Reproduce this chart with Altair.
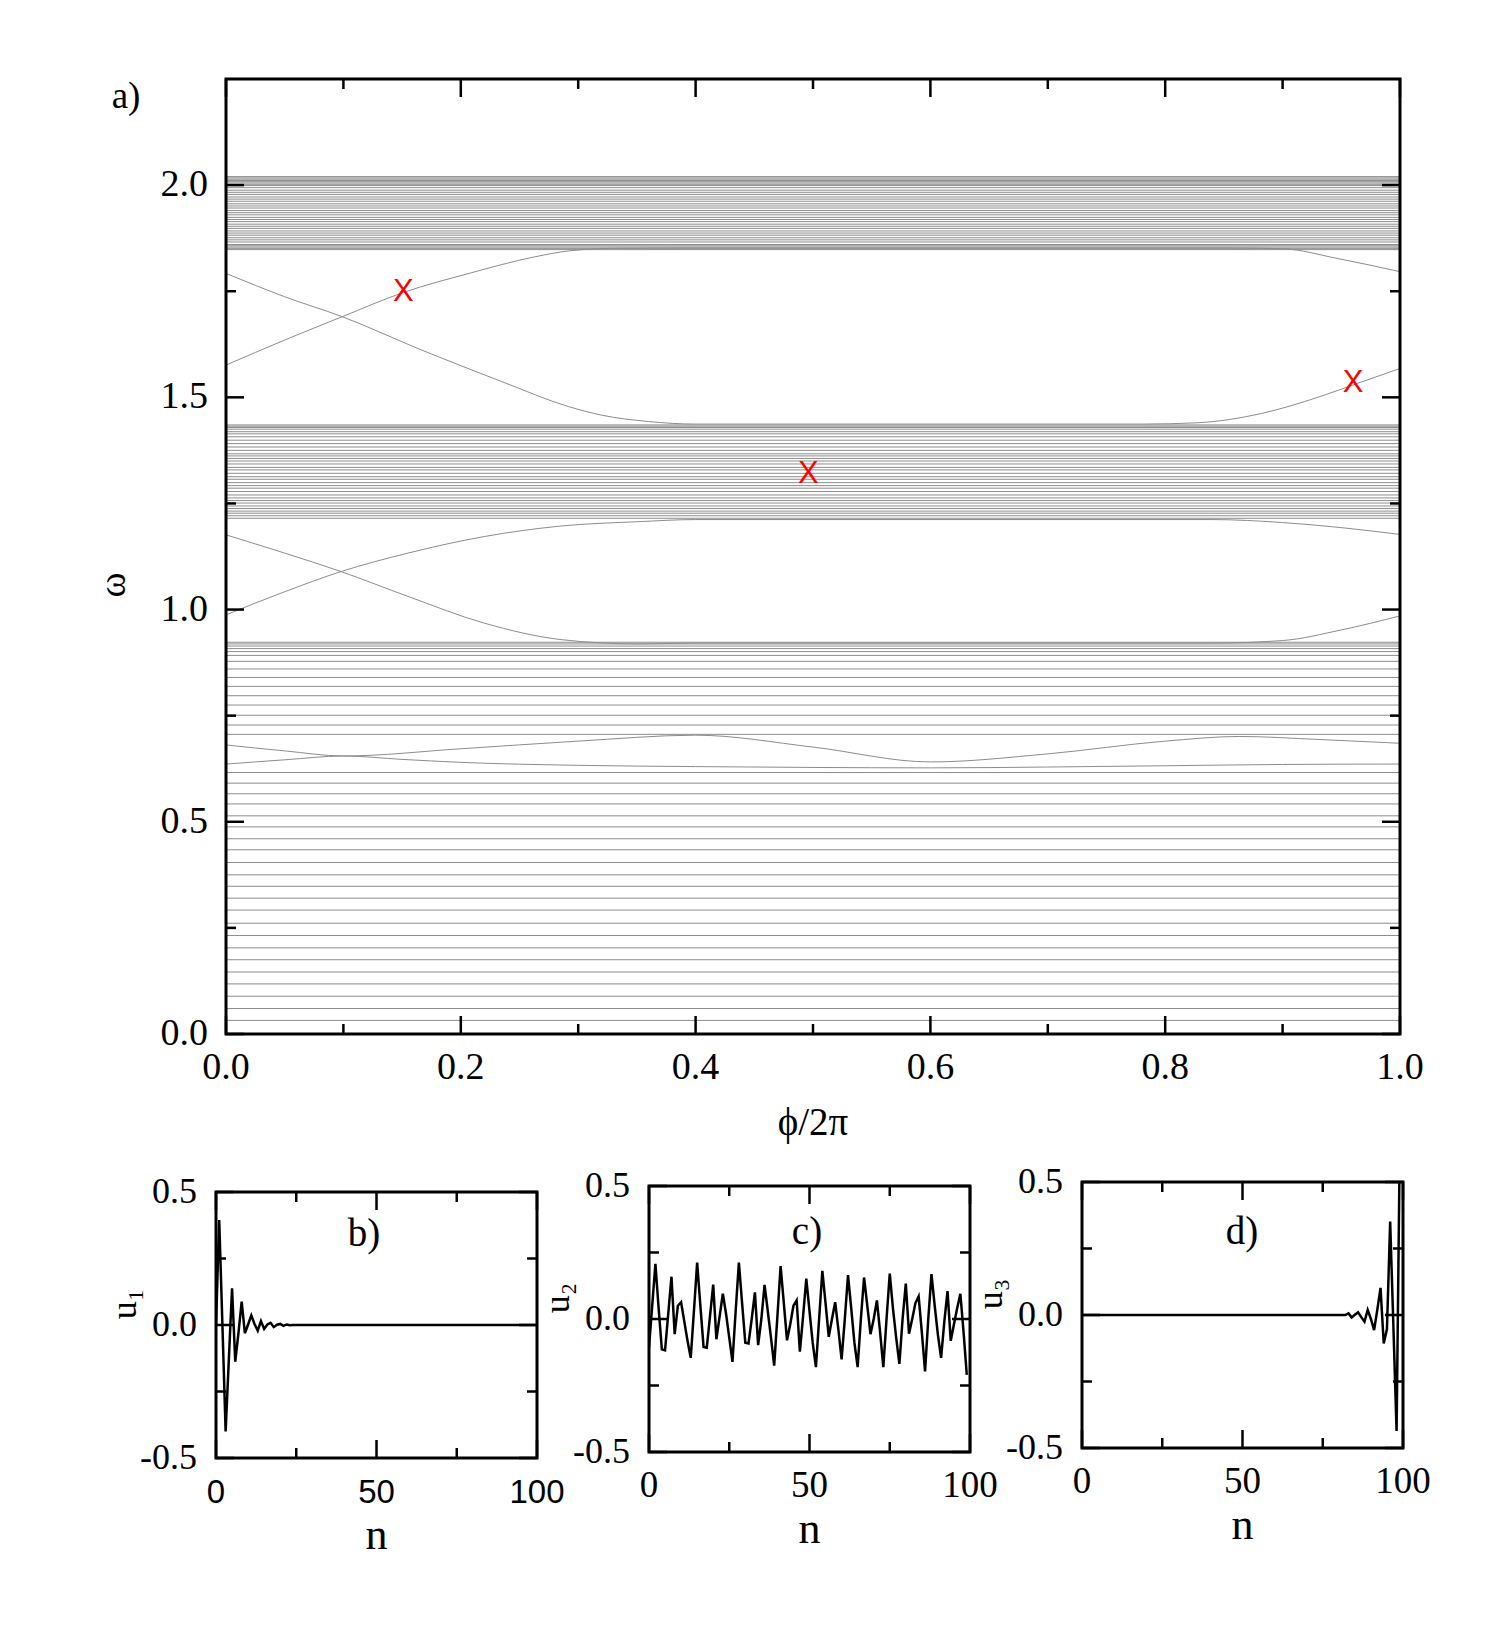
import altair as alt
import pandas as pd

SERIF = "Liberation Serif"
SANS = "Liberation Sans"
GRAY = "#8c8c8c"

# ---------------- panel a) : spectrum omega vs phi/2pi ----------------
upper_band = [2.020, 2.017, 2.014, 2.011, 2.008, 2.005, 2.002, 1.999, 1.994, 1.988,
              1.983, 1.978, 1.972, 1.967, 1.962, 1.956, 1.951, 1.946, 1.940, 1.935,
              1.930, 1.924, 1.919, 1.914, 1.908, 1.903, 1.898, 1.892, 1.887, 1.882,
              1.876, 1.871, 1.866, 1.860, 1.857, 1.854, 1.851, 1.848]
middle_band = [1.435, 1.432, 1.429, 1.425, 1.419, 1.414, 1.407, 1.399, 1.391, 1.383,
               1.375, 1.367, 1.362, 1.356, 1.350, 1.343, 1.335, 1.329, 1.321, 1.313,
               1.307, 1.299, 1.292, 1.286, 1.278, 1.270, 1.263, 1.257, 1.251, 1.244,
               1.238, 1.232, 1.227, 1.221, 1.215]
lower_band = [0.923, 0.919, 0.914, 0.908, 0.901, 0.892, 0.878, 0.860, 0.840, 0.819,
              0.797, 0.775, 0.751, 0.728, 0.706, 0.616, 0.591, 0.566, 0.542, 0.514,
              0.488, 0.460, 0.434, 0.404, 0.375, 0.348, 0.320, 0.292, 0.261, 0.232,
              0.203, 0.175, 0.146, 0.118, 0.089, 0.060, 0.032]

edge1_phi = [0.0, 0.05, 0.099, 0.151, 0.207, 0.263, 0.292, 0.33, 0.40, 0.85, 0.90, 0.947, 1.0]
edge1_omega = [1.576, 1.635, 1.690, 1.747, 1.792, 1.831, 1.845, 1.851, 1.852, 1.852, 1.850, 1.827, 1.796]
edge2_phi = [0.0, 0.05, 0.099, 0.167, 0.235, 0.292, 0.32, 0.36, 0.40, 0.78, 0.827, 0.882, 0.931, 0.964, 1.0]
edge2_omega = [1.792, 1.737, 1.690, 1.611, 1.537, 1.478, 1.458, 1.443, 1.437, 1.437, 1.440, 1.462, 1.501, 1.533, 1.568]
edge3_phi = [0.0, 0.05, 0.098, 0.155, 0.22, 0.286, 0.351, 0.40, 0.84, 0.90, 0.95, 1.0]
edge3_omega = [1.176, 1.133, 1.0895, 1.031, 0.968, 0.929, 0.919, 0.921, 0.921, 0.927, 0.952, 0.985]
edge4_phi = [0.0, 0.05, 0.098, 0.155, 0.22, 0.286, 0.351, 0.40, 0.84, 0.90, 0.95, 1.0]
edge4_omega = [0.9875, 1.042, 1.0895, 1.133, 1.172, 1.197, 1.207, 1.212, 1.212, 1.205, 1.193, 1.177]
edge5_phi = [0.0, 0.05, 0.10, 0.20, 0.30, 0.40, 0.50, 0.60, 0.70, 0.80, 0.863, 0.93, 1.0]
edge5_omega = [0.681, 0.667, 0.655, 0.672, 0.690, 0.704, 0.676, 0.641, 0.660, 0.690, 0.701, 0.694, 0.685]
edge6_phi = [0.0, 0.05, 0.10, 0.15, 0.20, 0.30, 0.40, 0.50, 0.60, 0.70, 0.80, 0.90, 1.0]
edge6_omega = [0.636, 0.646, 0.655, 0.647, 0.640, 0.633, 0.630, 0.628, 0.627, 0.629, 0.632, 0.635, 0.636]

marker_phi = [0.151, 0.496, 0.960]
marker_omega = [1.747, 1.320, 1.533]

x_major = [0.0, 0.2, 0.4, 0.6, 0.8, 1.0]
x_minor = [0.1, 0.3, 0.5, 0.7, 0.9]
y_major = [0.0, 0.5, 1.0, 1.5, 2.0]
y_minor = [0.25, 0.75, 1.25, 1.75]
x_major_labels = ["0.0", "0.2", "0.4", "0.6", "0.8", "1.0"]
y_major_labels = ["0.0", "0.5", "1.0", "1.5", "2.0"]

# ---------------- panels b) c) d) : mode profiles ----------------
n_b = list(range(101))
u1 = [0.0, 0.395, 0.0, -0.400, -0.130, 0.138, -0.138, -0.030, 0.088, -0.031,
      0.002, 0.036, 0.004, -0.021, 0.015, -0.015, 0.002, 0.008, -0.008, 0.001,
      0.004, -0.003, 0.002, -0.001, 0.0, 0.0, 0.0, 0.0, 0.0, 0.0,
      0.0, 0.0, 0.0, 0.0, 0.0, 0.0, 0.0, 0.0, 0.0, 0.0,
      0.0, 0.0, 0.0, 0.0, 0.0, 0.0, 0.0, 0.0, 0.0, 0.0,
      0.0, 0.0, 0.0, 0.0, 0.0, 0.0, 0.0, 0.0, 0.0, 0.0,
      0.0, 0.0, 0.0, 0.0, 0.0, 0.0, 0.0, 0.0, 0.0, 0.0,
      0.0, 0.0, 0.0, 0.0, 0.0, 0.0, 0.0, 0.0, 0.0, 0.0,
      0.0, 0.0, 0.0, 0.0, 0.0, 0.0, 0.0, 0.0, 0.0, 0.0,
      0.0, 0.0, 0.0, 0.0, 0.0, 0.0, 0.0, 0.0, 0.0, 0.0,
      0.0]

n_c = list(range(100))
u2 = [-0.108, 0.050, 0.207, 0.040, -0.114, -0.118, 0.020, 0.159, -0.057, 0.050,
      0.063, -0.010, -0.082, -0.146, 0.030, 0.212, 0.050, -0.105, -0.108, 0.010,
      0.129, -0.076, 0.010, 0.095, 0.020, -0.070, -0.161, 0.030, 0.212, 0.060,
      -0.089, -0.092, 0.000, 0.100, -0.098, 0.000, 0.128, 0.030, -0.070, -0.175,
      0.010, 0.199, 0.060, -0.080, -0.020, 0.050, 0.070, -0.123, 0.010, 0.152,
      0.030, -0.090, -0.181, 0.000, 0.181, 0.060, -0.067, 0.000, 0.063, -0.040,
      -0.152, 0.000, 0.165, 0.040, -0.090, -0.181, 0.000, 0.156, 0.050, -0.057,
      0.000, 0.070, -0.050, -0.181, 0.000, 0.171, 0.040, -0.070, -0.169, 0.000,
      0.133, -0.055, 0.000, 0.060, 0.085, -0.050, -0.197, 0.000, 0.169, 0.050,
      -0.060, -0.146, -0.010, 0.105, -0.082, -0.020, 0.040, 0.095, -0.050, -0.210]

n_d = list(range(100))
u3 = [0.0, 0.0, 0.0, 0.0, 0.0, 0.0, 0.0, 0.0, 0.0, 0.0,
      0.0, 0.0, 0.0, 0.0, 0.0, 0.0, 0.0, 0.0, 0.0, 0.0,
      0.0, 0.0, 0.0, 0.0, 0.0, 0.0, 0.0, 0.0, 0.0, 0.0,
      0.0, 0.0, 0.0, 0.0, 0.0, 0.0, 0.0, 0.0, 0.0, 0.0,
      0.0, 0.0, 0.0, 0.0, 0.0, 0.0, 0.0, 0.0, 0.0, 0.0,
      0.0, 0.0, 0.0, 0.0, 0.0, 0.0, 0.0, 0.0, 0.0, 0.0,
      0.0, 0.0, 0.0, 0.0, 0.0, 0.0, 0.0, 0.0, 0.0, 0.0,
      0.0, 0.0, 0.0, 0.0, 0.0, 0.0, 0.0, 0.0, 0.0, 0.0,
      0.0, 0.0, 0.0, 0.006, -0.009, 0.001, 0.010, -0.008, -0.025, 0.019,
      -0.015, -0.057, 0.020, 0.102, -0.107, -0.053, 0.351, -0.040, -0.436, 0.650]

s_x_major = [0, 50, 100]
s_x_minor = [25, 75]
s_y_major = [-0.5, 0.0, 0.5]
s_y_minor = [-0.25, 0.25]
s_x_labels = ["0", "50", "100"]
s_y_labels = ["-0.5", "0.0", "0.5"]


def frame(xs, ys, xdom, ydom, sw):
    d = pd.DataFrame({"xa": [xdom[0]], "xb": [xdom[1]], "ya": [ydom[0]], "yb": [ydom[1]]})
    return alt.Chart(d).mark_rect(fillOpacity=0, stroke="black", strokeWidth=sw).encode(
        x=alt.X("xa:Q", scale=xs, axis=None), x2="xb:Q",
        y=alt.Y("ya:Q", scale=ys, axis=None), y2="yb:Q",
    )


def frame_ticks(xs, ys, x0, y0, W, H, xmaj, xmin, ymaj, ymin, Lmaj, Lmin, sw):
    layers = []
    for vals, L in ((xmaj, Lmaj), (xmin, Lmin)):
        base = alt.Chart(pd.DataFrame({"v": vals})).mark_rule(color="black", strokeWidth=sw)
        layers.append(base.encode(x=alt.X("v:Q", scale=xs, axis=None),
                                  y=alt.value(y0 + H), y2=alt.value(y0 + H - L)))
        layers.append(base.encode(x=alt.X("v:Q", scale=xs, axis=None),
                                  y=alt.value(y0), y2=alt.value(y0 + L)))
    for vals, L in ((ymaj, Lmaj), (ymin, Lmin)):
        base = alt.Chart(pd.DataFrame({"v": vals})).mark_rule(color="black", strokeWidth=sw)
        layers.append(base.encode(y=alt.Y("v:Q", scale=ys, axis=None),
                                  x=alt.value(x0), x2=alt.value(x0 + L)))
        layers.append(base.encode(y=alt.Y("v:Q", scale=ys, axis=None),
                                  x=alt.value(x0 + W), x2=alt.value(x0 + W - L)))
    return layers


def tick_labels(xs, ys, x0, y0, H, xvals, xlabs, yvals, ylabs, xfont, xsize, xpad, yfont, ysize, ypad):
    xl = alt.Chart(pd.DataFrame({"v": xvals, "t": xlabs})).mark_text(
        font=xfont, fontSize=xsize, color="black", align="center", baseline="top"
    ).encode(x=alt.X("v:Q", scale=xs, axis=None), y=alt.value(y0 + H + xpad), text="t:N")
    yl = alt.Chart(pd.DataFrame({"v": yvals, "t": ylabs})).mark_text(
        font=yfont, fontSize=ysize, color="black", align="right", baseline="middle"
    ).encode(y=alt.Y("v:Q", scale=ys, axis=None), x=alt.value(x0 - ypad), text="t:N")
    return [xl, yl]


def text_at(txt, x, y, font, size, angle=0, color="black"):
    return alt.Chart(pd.DataFrame({"t": [txt]})).mark_text(
        font=font, fontSize=size, align="center", baseline="middle", color=color, angle=angle
    ).encode(text="t:N", x=alt.value(x), y=alt.value(y))


# ---- main panel ----
X0 = 10
W, H = 1174, 955
xs = alt.Scale(domain=[0, 1], range=[X0, X0 + W], nice=False, zero=False)
ys = alt.Scale(domain=[0, 2.25], nice=False, zero=False)

rows = []
for i, v in enumerate(upper_band + middle_band + lower_band):
    rows.append({"id": f"L{i}", "phi": 0.0, "omega": v})
    rows.append({"id": f"L{i}", "phi": 1.0, "omega": v})
edges = [(edge1_phi, edge1_omega), (edge2_phi, edge2_omega), (edge3_phi, edge3_omega),
         (edge4_phi, edge4_omega), (edge5_phi, edge5_omega), (edge6_phi, edge6_omega)]
for k, (ph, om) in enumerate(edges):
    for p, o in zip(ph, om):
        rows.append({"id": f"E{k}", "phi": p, "omega": o})
spec_df = pd.DataFrame(rows)

spectrum = alt.Chart(spec_df).mark_line(color=GRAY, strokeWidth=1, interpolate="monotone", clip=True).encode(
    x=alt.X("phi:Q", scale=xs, axis=None),
    y=alt.Y("omega:Q", scale=ys, axis=None),
    detail="id:N",
    order="phi:Q",
)

markers = alt.Chart(pd.DataFrame({"phi": marker_phi, "omega": marker_omega})).mark_text(
    text="X", color="#ff0000", font=SANS, fontSize=31, align="center", baseline="middle"
).encode(x=alt.X("phi:Q", scale=xs, axis=None), y=alt.Y("omega:Q", scale=ys, axis=None))

main = alt.layer(
    spectrum,
    frame(xs, ys, [0, 1], [0, 2.25], 3),
    *frame_ticks(xs, ys, X0, 0, W, H, x_major, x_minor, y_major, y_minor, 18, 10, 2.5),
    *tick_labels(xs, ys, X0, 0, H, x_major, x_major_labels, y_major, y_major_labels,
                 SERIF, 38, 15, SERIF, 38, 18),
    markers,
    text_at("a)", X0 - 100, 18, SERIF, 37),
    text_at("ϕ/2π", X0 + W / 2, H + 89, SERIF, 39),
    text_at("ω", X0 - 112, 506, SERIF, 38, angle=270),
).properties(width=W + X0, height=H)


# ---- small panels ----
def small_panel(n_vals, u_vals, letter, ylab, xfont, xsize, xpad, lpos, y0):
    Ws, Hs = 321, 266
    xs2 = alt.Scale(domain=[0, 100], nice=False, zero=False)
    ys2 = alt.Scale(domain=[-0.5, 0.5], range=[y0 + Hs, y0], nice=False, zero=False)
    df = pd.DataFrame({"n": n_vals, "u": u_vals})
    line = alt.Chart(df).mark_line(color="black", strokeWidth=2.5, clip=True, strokeMiterLimit=4).encode(
        x=alt.X("n:Q", scale=xs2, axis=None),
        y=alt.Y("u:Q", scale=ys2, axis=None),
        order="n:Q",
    )
    return alt.layer(
        line,
        frame(xs2, ys2, [0, 100], [-0.5, 0.5], 3),
        *frame_ticks(xs2, ys2, 0, y0, Ws, Hs, s_x_major, s_x_minor, s_y_major, s_y_minor, 18, 10, 2.5),
        *tick_labels(xs2, ys2, 0, y0, Hs, s_x_major, s_x_labels, s_y_major, s_y_labels,
                     xfont, xsize, xpad, SERIF, 36, 19),
        text_at(letter, lpos[0], y0 + lpos[1], SERIF, 39),
        text_at("n", Ws / 2, y0 + Hs + 78, SERIF, 44),
        text_at(ylab, -91, y0 + 112, SERIF, 36, angle=270),
    ).properties(width=Ws, height=Hs + y0)


pb = small_panel(n_b, u1, "b)", "u₁", SANS, 33, 19, (148, 42), 10)
pc = small_panel(n_c, u2, "c)", "u₂", SERIF, 37, 16, (158, 46), 4)
pdn = small_panel(n_d, u3, "d)", "u₃", SERIF, 37, 16, (160, 50), 0)

bottom = alt.hconcat(pb, pc, pdn, spacing=112, bounds="flush")

chart = alt.vconcat(main, bottom, spacing=21).properties(
    padding={"left": 95, "top": 77, "right": 5, "bottom": 5},
    background="white",
).configure_view(strokeWidth=0)

chart.save("out.html", embed_options={"renderer": "svg", "actions": False})
